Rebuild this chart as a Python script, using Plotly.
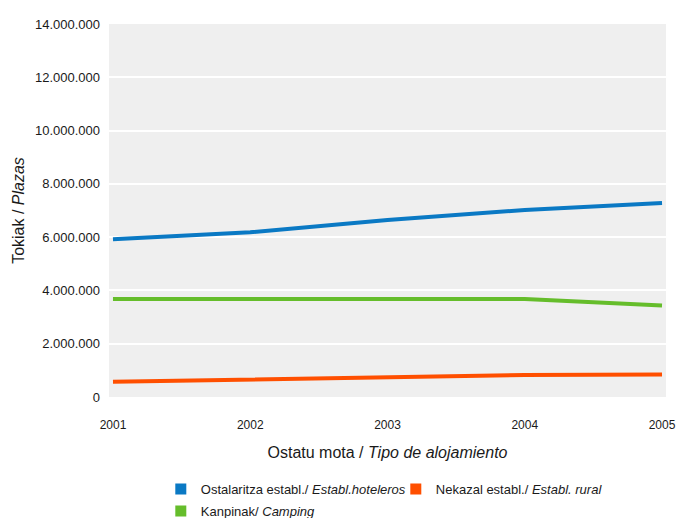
import plotly.graph_objects as go

years = [2001, 2002, 2003, 2004, 2005]
hoteleros = [5920000, 6180000, 6640000, 7020000, 7280000]
rural = [570000, 660000, 760000, 830000, 840000]
camping = [3680000, 3680000, 3680000, 3680000, 3430000]

names = [
    "Ostalaritza establ./ <i>Establ.hoteleros</i>",
    "Nekazal establ./ <i>Establ. rural</i>",
    "Kanpinak/ <i>Camping</i>",
]
colors = ["#0a79c4", "#ff4f00", "#65bd2b"]
series = [hoteleros, rural, camping]
legend_ids = ["legend", "legend", "legend2"]

FONT = "Liberation Sans, Arial, sans-serif"

fig = go.Figure()
for name, col, vals in zip(names, colors, series):
    fig.add_trace(go.Scatter(x=years, y=vals, mode="lines", name=name,
                             line=dict(color=col, width=4), showlegend=False))
for name, col, lg in zip(names, colors, legend_ids):
    fig.add_trace(go.Scatter(x=[None], y=[None], mode="markers", name=name, legend=lg,
                             marker=dict(symbol="square", size=11, color=col)))

W, Hfig = 677, 518
T, B = 24, 121
H = Hfig - T - B
fig.update_layout(
    width=W, height=Hfig,
    margin=dict(l=109, r=11, t=T, b=B, autoexpand=False),
    paper_bgcolor="white",
    plot_bgcolor="#efefef",
    separators=",.",
    font=dict(family=FONT, size=13, color="#1a1a1a"),
    xaxis=dict(range=[2000.971, 2005.029], tickvals=years, ticktext=[str(y) for y in years],
               showgrid=False, zeroline=False, showline=False, ticks="",
               automargin=False, ticklabeloverflow="allow", tickfont=dict(size=12),
               title=dict(text="Ostatu mota / <i>Tipo de alojamiento</i>", standoff=15),
               ticklabelstandoff=19),
    yaxis=dict(range=[0, 14000000],
               tickvals=[0, 2000000, 4000000, 6000000, 8000000, 10000000, 12000000, 14000000],
               tickformat=",d", showgrid=True, gridcolor="white", gridwidth=2,
               zeroline=False, showline=False, ticks="", ticklabelstandoff=8,
               automargin=False,
               title=dict(text="Tokiak / <i>Plazas</i>", standoff=6)),
    legend=dict(orientation="h", x=0.093, xanchor="left", y=-(474 - 397) / H, yanchor="top",
                entrywidthmode="pixels", entrywidth=190, itemwidth=30,
                font=dict(size=13), bgcolor="rgba(0,0,0,0)"),
    legend2=dict(orientation="h", x=0.093, xanchor="left", y=-(496 - 397) / H, yanchor="top",
                 itemwidth=30, font=dict(size=13), bgcolor="rgba(0,0,0,0)"),
)

fig.write_html(
    "out.html",
    config={"displayModeBar": False},
    post_script="document.body.style.margin='0';document.body.style.overflow='hidden';",
)
